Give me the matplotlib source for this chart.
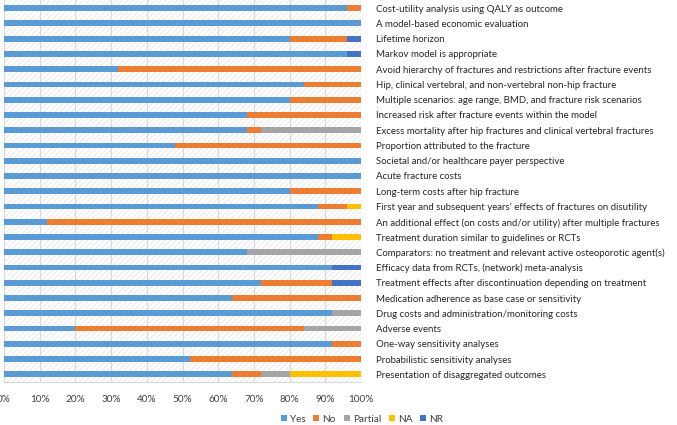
import matplotlib
matplotlib.use("Agg")
import matplotlib.pyplot as plt
from matplotlib.patches import Rectangle
import numpy as np

plt.rcParams['font.family'] = ['Lato', 'DejaVu Sans']
plt.rcParams['hatch.linewidth'] = 0.5

categories = [
    "Cost-utility analysis using QALY as outcome",
    "A model-based economic evaluation",
    "Lifetime horizon",
    "Markov model is appropriate",
    "Avoid hierarchy of fractures and restrictions after fracture events",
    "Hip, clinical vertebral, and non-vertebral non-hip fracture",
    "Multiple scenarios: age range, BMD, and fracture risk scenarios",
    "Increased risk after fracture events within the model",
    "Excess mortality after hip fractures and clinical vertebral fractures",
    "Proportion attributed to the fracture",
    "Societal and/or healthcare payer perspective",
    "Acute fracture costs",
    "Long-term costs after hip fracture",
    "First year and subsequent years\u2019 effects of fractures on disutility",
    "An additional effect (on costs and/or utility) after multiple fractures",
    "Treatment duration similar to guidelines or RCTs",
    "Comparators: no treatment and relevant active osteoporotic agent(s)",
    "Efficacy data from RCTs, (network) meta-analysis",
    "Treatment effects after discontinuation depending on treatment",
    "Medication adherence as base case or sensitivity",
    "Drug costs and administration/monitoring costs",
    "Adverse events",
    "One-way sensitivity analyses",
    "Probabilistic sensitivity analyses",
    "Presentation of disaggregated outcomes",
]

yes     = [96, 100, 80, 96, 32, 84, 80, 68, 68, 48, 100, 100, 80, 88, 12, 88, 68, 92, 72, 64, 92, 20, 92, 52, 64]
no      = [4, 0, 16, 0, 68, 16, 20, 32, 4, 52, 0, 0, 20, 8, 88, 4, 0, 0, 20, 36, 0, 64, 8, 48, 8]
partial = [0, 0, 0, 0, 0, 0, 0, 0, 28, 0, 0, 0, 0, 0, 0, 0, 32, 0, 0, 0, 8, 16, 0, 0, 8]
na      = [0, 0, 0, 0, 0, 0, 0, 0, 0, 0, 0, 0, 0, 4, 0, 8, 0, 0, 0, 0, 0, 0, 0, 0, 20]
nr      = [0, 0, 4, 4, 0, 0, 0, 0, 0, 0, 0, 0, 0, 0, 0, 0, 0, 8, 8, 0, 0, 0, 0, 0, 0]

series = [("Yes", yes, "#5B9BD5"), ("No", no, "#ED7D31"), ("Partial", partial, "#A5A5A5"),
          ("NA", na, "#FFC000"), ("NR", nr, "#4472C4")]

W, H = 677, 425
fig = plt.figure(figsize=(W / 100, H / 100), dpi=100)
ax = fig.add_axes([4 / W, 1 - 382 / H, 357 / W, 381.5 / H])

y = np.arange(len(categories))
left = np.zeros(len(categories))
for name, vals, col in series:
    v = np.array(vals, dtype=float)
    ax.barh(y, v, left=left, height=0.38, color=col, label=name, zorder=3)
    left += v

ax.set_xlim(0, 100)
ax.set_ylim(len(categories) - 0.5, -0.5)

bg = Rectangle((0, 0), 1, 1, transform=ax.transAxes, facecolor="white",
               edgecolor="#e2e2e2", hatch="//////", linewidth=0, zorder=0)
ax.add_patch(bg)

ax.set_xticks(np.arange(0, 101, 10))
ax.set_xticklabels([f"{t}%" for t in range(0, 101, 10)])
ax.grid(axis="x", color="#d9d9d9", linewidth=0.8, zorder=1)
ax.set_axisbelow(False)

ax.yaxis.tick_right()
ax.set_yticks(y)
ax.set_yticklabels(categories)
ax.tick_params(axis="y", length=0, pad=11, labelsize=6.9, labelcolor="#262626")
ax.tick_params(axis="x", length=0, pad=9, labelsize=7.2, labelcolor="#404040")
for lab in ax.get_yticklabels():
    lab.set_horizontalalignment("left")

for s in ["top", "right"]:
    ax.spines[s].set_visible(False)
for s in ["left", "bottom"]:
    ax.spines[s].set_color("#d9d9d9")
    ax.spines[s].set_linewidth(0.8)

handles, labels = ax.get_legend_handles_labels()
fig.legend(handles, labels, loc="center", bbox_to_anchor=(362 / W, 1 - 419 / H),
           ncol=5, frameon=False, fontsize=7.2, handlelength=0.6, handleheight=0.6,
           handletextpad=0.3, columnspacing=0.8, labelcolor="#404040")

fig.savefig("out.png", dpi=100)
